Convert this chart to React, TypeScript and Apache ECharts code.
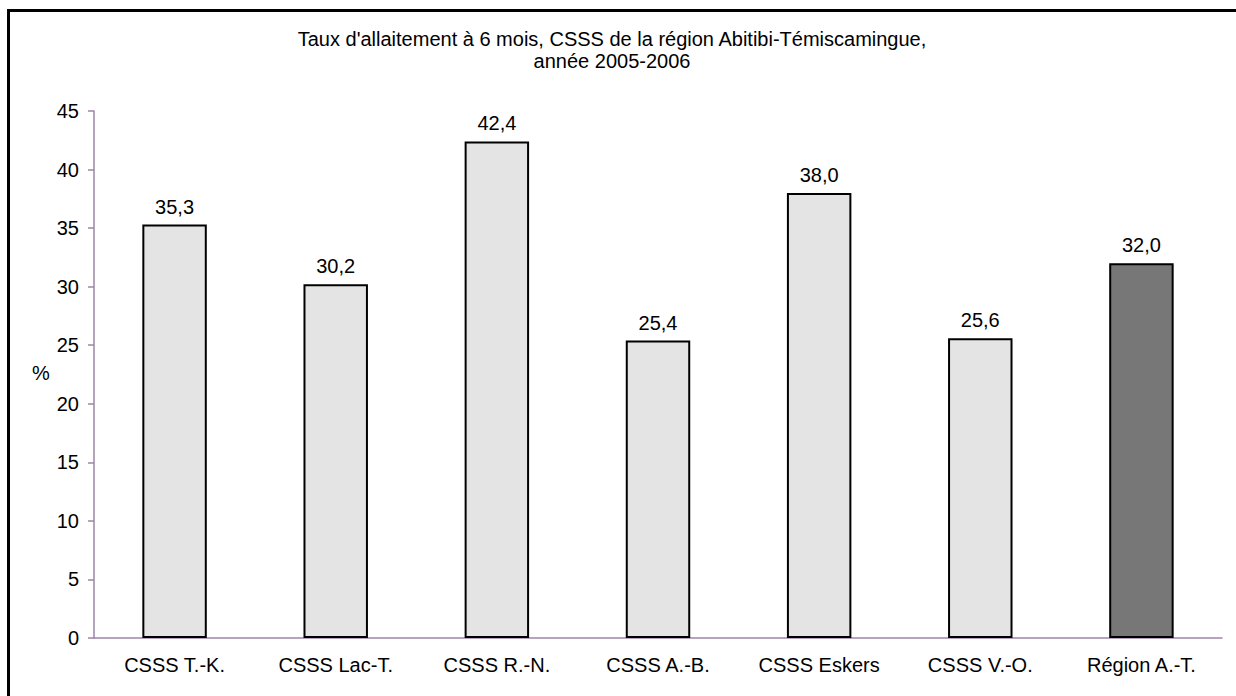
import React, { useEffect, useRef } from "react";
import * as echarts from "echarts";

const categories = ["CSSS T.-K.", "CSSS Lac-T.", "CSSS R.-N.", "CSSS A.-B.", "CSSS Eskers", "CSSS V.-O.", "Région A.-T."];
const values = [35.3, 30.2, 42.4, 25.4, 38.0, 25.6, 32.0];
const highlighted = [false, false, false, false, false, false, true];
const titleLines = ["Taux d'allaitement à 6 mois, CSSS de la région Abitibi-Témiscamingue,", "année 2005-2006"];
const yAxisName = "%";

const FONT = "'Liberation Sans', Arial, sans-serif";
const AXIS = "#9d86a6";
const FS = 20;

export default function App() {
  const ref = useRef<HTMLDivElement>(null);
  useEffect(() => {
    document.body.style.margin = "0";
    const chart = echarts.init(ref.current!, null, { renderer: "svg" });
    chart.setOption({
      animation: false,
      backgroundColor: "#ffffff",
      textStyle: { fontFamily: FONT },
      title: {
        text: titleLines.join("\n"),
        left: 612,
        textAlign: "center",
        top: 28,
        padding: 0,
        textStyle: { fontFamily: FONT, fontSize: FS, fontWeight: "normal", color: "#000", lineHeight: 22 },
      },
      graphic: [
        {
          type: "rect",
          shape: { x: 8.5, y: 10.5, width: 1240, height: 700 },
          style: { fill: "none", stroke: "#000", lineWidth: 3 },
          z: 100,
        },
        {
          type: "text",
          x: 41,
          y: 373,
          style: { text: yAxisName, font: `${FS}px ${FONT}`, fill: "#000", textAlign: "center", textVerticalAlign: "middle" },
        },
      ],
      grid: { left: 94, right: 14, top: 111, bottom: 58 },
      xAxis: {
        type: "category",
        data: categories,
        axisLine: { lineStyle: { color: AXIS, width: 1.5 } },
        axisTick: { show: false },
        axisLabel: { color: "#000", fontSize: FS, fontFamily: FONT, margin: 17 },
      },
      yAxis: {
        type: "value",
        min: 0,
        max: 45,
        interval: 5,
        axisLine: { show: true, lineStyle: { color: AXIS, width: 1.5 } },
        axisTick: { show: true, length: 6, lineStyle: { color: AXIS, width: 1.5 } },
        splitLine: { show: false },
        axisLabel: { color: "#000", fontSize: FS, fontFamily: FONT, margin: 15 },
      },
      series: [
        {
          type: "bar",
          barWidth: "40%",
          data: values.map((v, i) => ({
            value: v,
            itemStyle: { color: highlighted[i] ? "#777777" : "#e4e4e4" },
          })),
          itemStyle: { borderColor: "#000", borderWidth: 2 },
          label: {
            show: true,
            position: "top",
            distance: 8,
            color: "#000",
            fontSize: FS,
            fontFamily: FONT,
            formatter: (p: any) => p.value.toFixed(1).replace(".", ","),
          },
        },
      ],
    });
    return () => chart.dispose();
  }, []);
  return <div ref={ref} style={{ width: 1236, height: 696 }} />;
}
